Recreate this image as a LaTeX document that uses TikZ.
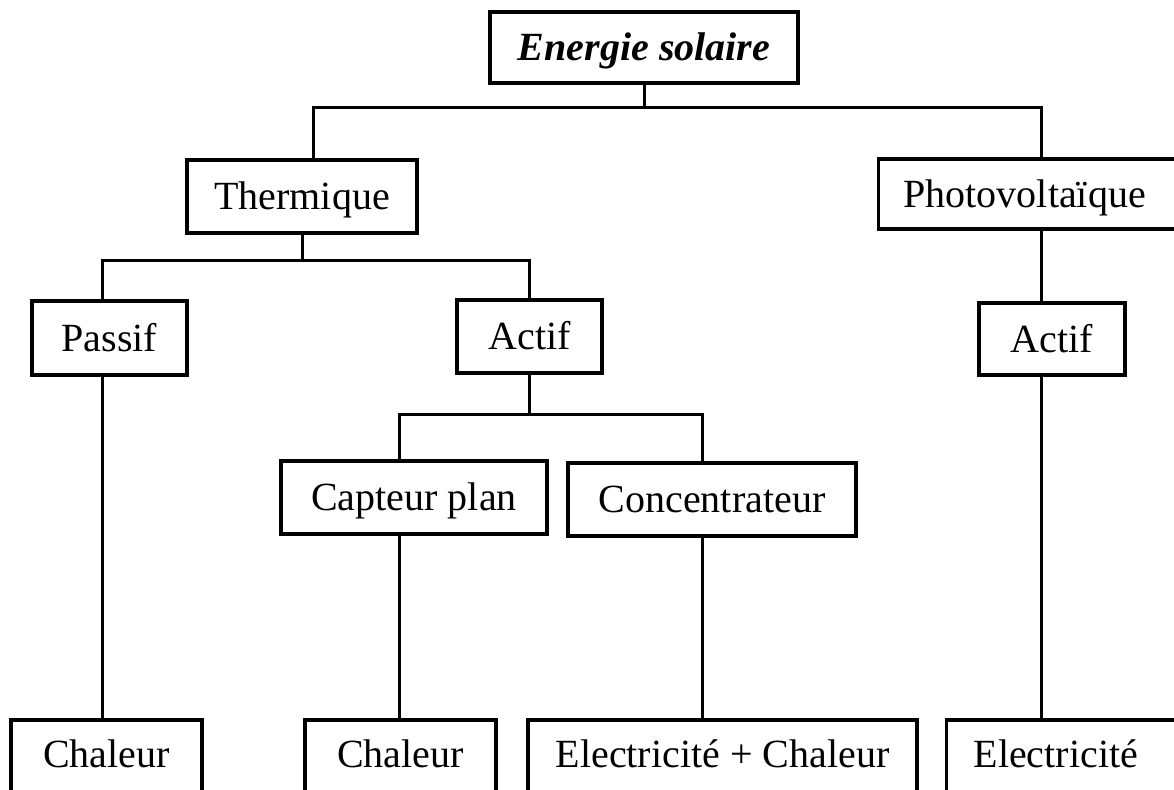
\documentclass[tikz,border=0pt]{standalone}
\usepackage{fontspec}
\setmainfont{Liberation Serif}

\begin{document}
\begin{tikzpicture}[x=1pt, y=-1pt,
  every node/.style={font=\fontsize{40}{48}\selectfont},
  box/.style={draw, rectangle, line width=3.2pt, inner sep=0pt, text height=26.5pt, text depth=0pt},
  leaf/.style={box, minimum height=80pt, text depth=12pt},
  link/.style={line width=3pt}]
  \useasboundingbox (0,0) rectangle (1174,789);

  % les boites
  \node[box, minimum width=308pt, minimum height=71pt, font=\fontsize{40}{48}\selectfont\bfseries\itshape] (es) at (644,47.5) {Energie solaire};
  \node[box, minimum width=230pt, minimum height=73pt] (therm) at (302,196.5) {Thermique};
  \node[box, anchor=west, minimum height=70pt, text width=290pt, inner xsep=25pt, align=left] (pv) at (877,194) {Photovoltaïque};
  \node[box, minimum width=155pt, minimum height=74pt] (passif) at (109.5,338) {Passif};
  \node[box, minimum width=145pt, minimum height=73pt] (actT) at (529.5,336.5) {Actif};
  \node[box, minimum width=146pt, minimum height=72pt] (actP) at (1052,339) {Actif};
  \node[box, minimum width=266pt, minimum height=73pt] (capt) at (414,497.5) {Capteur plan};
  \node[box, minimum width=288pt, minimum height=73pt] (conc) at (712,499.5) {Concentrateur};
  \node[leaf, minimum width=191pt] (chal1) at (106.5,760) {Chaleur};
  \node[leaf, minimum width=191pt] (chal2) at (400.5,760) {Chaleur};
  \node[leaf, minimum width=389pt] (ec) at (722.5,760) {Electricité + Chaleur};
  \node[leaf, anchor=west, text width=250pt, inner xsep=27pt, align=left] (elec) at (945,760) {Electricité};

  % colonnes des traits
  \coordinate (thx) at ([xshift=11pt]therm.north);
  \coordinate (pvx) at ([xshift=-11pt]actP.north);
  \coordinate (pax) at ([xshift=-7pt]passif.north);
  \coordinate (cpx) at ([xshift=-15pt]capt.north);
  \coordinate (cox) at ([xshift=-10pt]conc.north);

  \draw[link] (thx) -- ++(0,-51) coordinate (j1) -| (pvx |- pv.north);
  \draw[link] (es.south) -- (es.south |- j1);
  \draw[link] (pax) -- ++(0,-39) coordinate (j2) -| (actT.north);
  \draw[link] (therm.south) -- (therm.south |- j2);
  \draw[link] (cpx) -- ++(0,-45) coordinate (j3) -| (cox);
  \draw[link] (actT.south) -- (actT.south |- j3);
  \draw[link] (pvx |- pv.south) -- (pvx);
  \draw[link] (pax |- passif.south) -- (pax |- chal1.north);
  \draw[link] (cpx |- capt.south) -- (cpx |- chal2.north);
  \draw[link] (cox |- conc.south) -- (cox |- ec.north);
  \draw[link] (pvx |- actP.south) -- (pvx |- elec.north);
\end{tikzpicture}
\end{document}
